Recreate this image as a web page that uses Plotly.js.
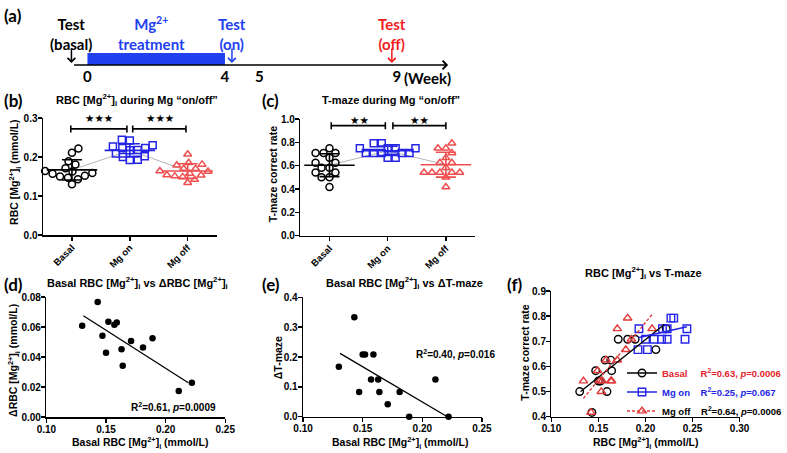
<!DOCTYPE html>
<html>
<head>
<meta charset="utf-8">
<script src="https://cdn.plot.ly/plotly-3.0.1.min.js"></script>
<style>
  html, body { margin: 0; padding: 0; background: #fff; }
  #chart { width: 787px; height: 453px; }
</style>
</head>
<body>
<div id="chart"></div>
<script>
var W = 787, H = 453;
var FONT = 'Liberation Sans, Arial, sans-serif';
var TLFONT = 'Lato, sans-serif';

// ---- values ----
var groups = ['Basal', 'Mg on', 'Mg off'];

var basalRBC   = [0.130, 0.143, 0.147, 0.150, 0.152, 0.157, 0.159, 0.163, 0.164, 0.171, 0.181, 0.189, 0.211, 0.222];
var basalTmaze = [0.500, 0.417, 0.583, 0.542, 0.542, 0.625, 0.500, 0.625, 0.583, 0.708, 0.708, 0.708, 0.667, 0.750];
var onRBC      = [0.192, 0.202, 0.193, 0.200, 0.209, 0.217, 0.223, 0.242, 0.218, 0.223, 0.244, 0.227, 0.230];
var onTmaze    = [0.667, 0.667, 0.750, 0.708, 0.708, 0.708, 0.708, 0.708, 0.750, 0.750, 0.750, 0.792, 0.792];
var offRBC     = [0.134, 0.142, 0.149, 0.151, 0.154, 0.153, 0.158, 0.163, 0.164, 0.170, 0.170, 0.179, 0.181, 0.185, 0.207];
var offTmaze   = [0.542, 0.417, 0.583, 0.542, 0.542, 0.500, 0.625, 0.542, 0.542, 0.625, 0.750, 0.667, 0.792, 0.708, 0.750];
var deltaRBC   = [0.0608, 0.0766, 0.0541, 0.0429, 0.0635, 0.0615, 0.0630, 0.0451, 0.0342, 0.0507, 0.0463, 0.0525, 0.0174, 0.0228];
var deltaTmaze = [0.167, 0.333, 0.083, 0.208, 0.208, 0.125, 0.208, 0.125, 0.083, 0.042, 0.083, 0.000, 0.125, 0.000];

// regression lines (end points)
var fitDx = [0.131, 0.219], fitDy = [0.0675, 0.0228];
var fitEx = [0.131, 0.221], fitEy = [0.212, 0.000];
var fitBasalX = [0.131, 0.220], fitBasalY = [0.500, 0.767];
var fitOnX    = [0.192, 0.244], fitOnY    = [0.714, 0.758];
var fitOffX   = [0.134, 0.207], fitOffY   = [0.473, 0.807];

var statD = 'R<sup>2</sup>=0.61, <i>p</i>=0.0009';
var statE = 'R<sup>2</sup>=0.40, <i>p</i>=0.016';
var statF = ['R<sup>2</sup>=0.63, <i>p</i>=0.0006', 'R<sup>2</sup>=0.25, <i>p</i>=0.067', 'R<sup>2</sup>=0.64, <i>p</i>=0.0006'];
var starsB = ['★★★', '★★★'];
var starsC = ['★★', '★★'];

// timeline (a)
var timelineTickWeeks = [0, 4, 5, 9];
var timelineTickText = ['0', '4', '5', '9'];
var treatmentWeeks = [0, 4];
var testWeeks = [0, 4, 9];
var testLabels = ['Test<br>(basal)', 'Test<br>(on)', 'Test<br>(off)'];

// ---- colours / helpers ----
var C_ON = '#2424e6', C_OFF = '#ef4f4f', C_RED_TXT = '#e3242b';
var TL_BLUE = '#2140f0', TL_RED = '#f21d1d';
var testColors = ['#000', TL_BLUE, TL_RED];
var testShift = [-16, 7, -5];

function px2x(p) { return p / W; }
function px2y(p) { return 1 - p / H; }
function mean(a) { return a.reduce(function (s, v) { return s + v; }, 0) / a.length; }
function sd(a) {
  var m = mean(a);
  return Math.sqrt(a.reduce(function (s, v) { return s + (v - m) * (v - m); }, 0) / (a.length - 1));
}

// simple beeswarm: offsets in px, converted to category units
function swarmX(vals, center, pxPerUnit, pxPerCat, diam) {
  var order = vals.map(function (v, i) { return i; }).sort(function (a, b) { return vals[a] - vals[b]; });
  var placed = [], xs = [];
  order.forEach(function (i) {
    var yp = vals[i] * pxPerUnit, chosen = 0;
    for (var s = 0; s < 100; s += 0.5) {
      var cands = s === 0 ? [0] : (placed.length % 2 ? [s, -s] : [-s, s]);
      var hit = null;
      for (var c = 0; c < cands.length; c++) {
        var ok = placed.every(function (p) {
          var dx = p[0] - cands[c], dy = p[1] - yp;
          return dx * dx + dy * dy >= diam * diam;
        });
        if (ok) { hit = cands[c]; break; }
      }
      if (hit !== null) { chosen = hit; break; }
    }
    placed.push([chosen, yp]);
    xs[i] = center + chosen / pxPerCat;
  });
  return xs;
}

var tickF = {family: FONT, size: 10, weight: 'bold', color: '#000'};
function axis(extra) {
  return Object.assign({
    showline: true, linecolor: '#000', linewidth: 1.5,
    ticks: 'outside', ticklen: 4, tickwidth: 1.5, tickcolor: '#000', ticklabelstandoff: -2,
    showgrid: false, zeroline: false, fixedrange: true, tickfont: tickF
  }, extra);
}

var traces = [];

function columnPanel(xa, ya, sets, pxPerUnit, pxPerCat) {
  var means = sets.map(function (s) { return mean(s.vals); });
  traces.push({x: [0, 1, 2], y: means, xaxis: xa, yaxis: ya, mode: 'lines',
    line: {color: '#b5b5b5', width: 1}, showlegend: false, hoverinfo: 'skip'});
  sets.forEach(function (s, g) {
    traces.push({x: swarmX(s.vals, g, pxPerUnit, pxPerCat, 7.6), y: s.vals, xaxis: xa, yaxis: ya,
      mode: 'markers', cliponaxis: false, showlegend: false,
      marker: {symbol: s.symbol, size: 7, color: s.color, line: {width: 1.5, color: s.color}}});
    traces.push({x: [g], y: [means[g]], xaxis: xa, yaxis: ya, mode: 'markers', cliponaxis: false,
      showlegend: false,
      marker: {symbol: 'line-ew', size: 36, color: s.color, line: {width: 1.6, color: s.color}},
      error_y: {type: 'data', array: [sd(s.vals)], visible: true, width: 10, thickness: 1.6, color: s.color}});
  });
}

// (b) RBC Mg
columnPanel('x', 'y', [
  {vals: basalRBC, symbol: 'circle-open', color: '#000'},
  {vals: onRBC, symbol: 'square-open', color: C_ON},
  {vals: offRBC, symbol: 'triangle-up-open', color: C_OFF}
], 117 / 0.3, 174.7 / 3);

// (c) T-maze
columnPanel('x2', 'y2', [
  {vals: basalTmaze, symbol: 'circle-open', color: '#000'},
  {vals: onTmaze, symbol: 'square-open', color: C_ON},
  {vals: offTmaze, symbol: 'triangle-up-open', color: C_OFF}
], 116.7, 175.7 / 3);

// (d)
traces.push({x: basalRBC, y: deltaRBC, xaxis: 'x3', yaxis: 'y3', mode: 'markers', cliponaxis: false,
  showlegend: false, marker: {symbol: 'circle', size: 6.5, color: '#000'}});
traces.push({x: fitDx, y: fitDy, xaxis: 'x3', yaxis: 'y3', mode: 'lines', showlegend: false,
  line: {color: '#000', width: 1.3}});

// (e)
traces.push({x: basalRBC, y: deltaTmaze, xaxis: 'x4', yaxis: 'y4', mode: 'markers', cliponaxis: false,
  showlegend: false, marker: {symbol: 'circle', size: 6.5, color: '#000'}});
traces.push({x: fitEx, y: fitEy, xaxis: 'x4', yaxis: 'y4', mode: 'lines', showlegend: false,
  line: {color: '#000', width: 1.3}});

// (f)
var fSets = [
  {x: basalRBC, y: basalTmaze, fx: fitBasalX, fy: fitBasalY, symbol: 'circle-open', color: '#000', dash: 'solid',
   label: '<span style="color:' + C_RED_TXT + '">Basal\u00a0\u00a0\u00a0\u00a0\u00a0' + statF[0] + '</span>'},
  {x: onRBC, y: onTmaze, fx: fitOnX, fy: fitOnY, symbol: 'square-open', color: C_ON, dash: 'solid',
   label: '<span style="color:' + C_ON + '">Mg on\u00a0\u00a0\u00a0\u00a0' + statF[1] + '</span>'},
  {x: offRBC, y: offTmaze, fx: fitOffX, fy: fitOffY, symbol: 'triangle-up-open', color: '#e33a3a', dash: '3px,2px',
   label: '<span style="color:#000">Mg off\u00a0\u00a0\u00a0\u00a0' + statF[2] + '</span>'}
];
fSets.forEach(function (s) {
  traces.push({x: s.x, y: s.y, xaxis: 'x5', yaxis: 'y5', mode: 'markers', cliponaxis: false, showlegend: false,
    marker: {symbol: s.symbol, size: 7.5, color: s.color, line: {width: 1.4, color: s.color}}});
});
fSets.forEach(function (s) {
  traces.push({x: s.fx, y: s.fy, xaxis: 'x5', yaxis: 'y5', mode: 'lines', showlegend: false,
    line: {color: s.color, width: 1.4, dash: s.dash}});
});
fSets.forEach(function (s) {
  traces.push({x: [null], y: [null], xaxis: 'x5', yaxis: 'y5', mode: 'lines+markers', name: s.label,
    showlegend: true, line: {color: s.color, width: 1.4, dash: s.dash},
    marker: {symbol: s.symbol, size: 7.5, color: s.color, line: {width: 1.4, color: s.color}}});
});

// ---- annotations ----
var ann = [];
function note(text, xp, yp, opt) {
  ann.push(Object.assign({text: text, x: px2x(xp), y: px2y(yp), xref: 'paper', yref: 'paper',
    xanchor: 'center', yanchor: 'middle', showarrow: false,
    font: {family: FONT, size: 11, weight: 'bold', color: '#000'}}, opt || {}));
}
var panelF = {family: TLFONT, size: 17, weight: 'bold', color: '#000'};
note('(a)', 2, 16, {xanchor: 'left', font: panelF});
note('(b)', 2, 100, {xanchor: 'left', font: panelF});
note('(c)', 262, 100, {xanchor: 'left', font: panelF});
note('(d)', 2, 284, {xanchor: 'left', font: panelF});
note('(e)', 262, 284, {xanchor: 'left', font: panelF});
note('(f)', 508, 284, {xanchor: 'left', font: panelF});

note('RBC [Mg<sup>2+</sup>]<sub>i</sub> during Mg \u201con/off\u201d', 138, 100);
note('T-maze during Mg \u201con/off\u201d', 394, 100);
note('Basal RBC [Mg<sup>2+</sup>]<sub>i</sub> vs \u0394RBC [Mg<sup>2+</sup>]<sub>i</sub>', 138, 283);
note('Basal RBC [Mg<sup>2+</sup>]<sub>i</sub> vs \u0394T-maze', 407, 283);
note('RBC [Mg<sup>2+</sup>]<sub>i</sub> vs T-maze', 648, 273);

var titF = {family: FONT, size: 10.5, weight: 'bold', color: '#000'};
note('RBC [Mg<sup>2+</sup>]<sub>i</sub> (mmol/L)', 15, 172, {textangle: -90, font: titF});
note('T-maze correct rate', 275, 174, {textangle: -90, font: titF});
note('\u0394RBC [Mg<sup>2+</sup>]<sub>i</sub> (mmol/L)', 14, 360, {textangle: -90, font: titF});
note('\u0394T-maze', 280, 358, {textangle: -90, font: titF});
note('T-maze correct rate', 528, 353, {textangle: -90, font: titF});
note('Basal RBC [Mg<sup>2+</sup>]<sub>i</sub> (mmol/L)', 141, 443, {font: titF});
note('Basal RBC [Mg<sup>2+</sup>]<sub>i</sub> (mmol/L)', 403, 443, {font: titF});
note('RBC [Mg<sup>2+</sup>]<sub>i</sub> (mmol/L)', 650, 443, {font: titF});

var statFont = {family: FONT, size: 10, weight: 'bold', color: '#000'};
ann.push({text: statD, xref: 'x3', yref: 'y3', x: 0.207, y: 0.0065, xanchor: 'center', yanchor: 'middle',
  showarrow: false, font: statFont});
ann.push({text: statE, xref: 'x4', yref: 'y4', x: 0.2275, y: 0.21, xanchor: 'center', yanchor: 'middle',
  showarrow: false, font: statFont});

var starFont = {family: 'DejaVu Sans', size: 10.5, color: '#000'};
function stars(text, xr, yr, x, y, shift) {
  ann.push({text: text, xref: xr, yref: yr, x: x, y: y, yshift: shift, xanchor: 'center', yanchor: 'middle',
    showarrow: false, font: starFont});
}
stars(starsB[0], 'x', 'y', 0.47, 0.29, 4);
stars(starsB[1], 'x', 'y', 1.52, 0.29, 4);
stars(starsC[0], 'x2', 'y2', 0.52, 0.99, 0);
stars(starsC[1], 'x2', 'y2', 1.54, 0.99, 0);

// timeline scale (schematic): px = week0Px + pxPerWeek * week
var week0Px = 88, pxPerWeek = 34.6;
function pxToWeek(p) { return (p - week0Px) / pxPerWeek; }
var tlDomPx = [60, 460];
var tlRange = [pxToWeek(tlDomPx[0]), pxToWeek(tlDomPx[1])];

ann.push({text: '', xref: 'x6', yref: 'paper', x: pxToWeek(451), y: px2y(65), axref: 'x6', ax: pxToWeek(73),
  ayref: 'pixel', ay: 0, showarrow: true, arrowhead: 4, arrowsize: 1.1, arrowwidth: 1.5, arrowcolor: '#000'});
var tlF = function (c) { return {family: TLFONT, size: 15, weight: 'bold', color: c}; };
testWeeks.forEach(function (w, i) {
  ann.push({text: '', xref: 'x6', yref: 'paper', x: w, y: px2y(63), ax: 0, ay: -16, xshift: testShift[i],
    showarrow: true, arrowhead: 4, arrowsize: 1, arrowwidth: 1.5, arrowcolor: testColors[i]});
  ann.push({text: testLabels[i], xref: 'x6', yref: 'paper', x: w, y: px2y(34), xshift: testShift[i],
    xanchor: 'center', yanchor: 'middle', showarrow: false, font: tlF(testColors[i])});
});
ann.push({text: 'Mg<sup>2+</sup><br>treatment', xref: 'x6', yref: 'paper', x: mean(treatmentWeeks), y: px2y(34),
  xshift: -5, xanchor: 'center', yanchor: 'middle', showarrow: false, font: tlF(TL_BLUE)});
ann.push({text: '(Week)', xref: 'x6', yref: 'paper', x: timelineTickWeeks[3], y: px2y(78), xanchor: 'left',
  yanchor: 'middle', xshift: 5, showarrow: false, font: tlF('#000')});

// ---- shapes: brackets and treatment bar ----
function bracket(xr, yr, x0, x1, y, cap) {
  return {type: 'path', xref: xr, yref: yr, line: {color: '#000', width: 1.6},
    path: 'M' + x0 + ',' + (y - cap) + 'L' + x0 + ',' + (y + cap) + 'M' + x0 + ',' + y + 'L' + x1 + ',' + y +
          'M' + x1 + ',' + (y - cap) + 'L' + x1 + ',' + (y + cap)};
}
var shapes = [
  bracket('x', 'y', -0.02, 0.95, 0.272, 0.009),
  bracket('x', 'y', 1.05, 1.97, 0.272, 0.009),
  bracket('x2', 'y2', 0.03, 0.96, 0.943, 0.03),
  bracket('x2', 'y2', 1.09, 2.0, 0.943, 0.03),
  {type: 'rect', xref: 'x6', yref: 'paper', x0: treatmentWeeks[0], x1: treatmentWeeks[1],
   y0: px2y(65), y1: px2y(53), fillcolor: TL_BLUE, line: {width: 0}}
];

var catAxis = {tickvals: [0, 1, 2], ticktext: groups, range: [-0.5, 2.5], tickangle: -45,
  tickfont: {family: FONT, size: 9.5, weight: 'bold', color: '#000'}};

var layout = {
  width: W, height: H, margin: {l: 0, r: 0, t: 0, b: 0},
  paper_bgcolor: '#fff', plot_bgcolor: 'rgba(0,0,0,0)',
  font: {family: FONT, size: 10, weight: 'bold', color: '#000'},
  showlegend: true,
  legend: {x: px2x(626), y: px2y(392), xanchor: 'left', yanchor: 'middle', bgcolor: 'rgba(0,0,0,0)',
    font: {family: FONT, size: 9.5, weight: 'bold', color: '#000'}},
  xaxis: axis(Object.assign({domain: [px2x(43.3), px2x(218)], anchor: 'y'}, catAxis)),
  yaxis: axis({domain: [px2y(235), px2y(118)], range: [0, 0.3], dtick: 0.1, tickformat: '.1f', anchor: 'x'}),
  xaxis2: axis(Object.assign({domain: [px2x(302.3), px2x(478)], anchor: 'y2'}, catAxis)),
  yaxis2: axis({domain: [px2y(235.7), px2y(119)], range: [0, 1], dtick: 0.2, tickformat: '.1f', anchor: 'x2'}),
  xaxis3: axis({domain: [px2x(46.7), px2x(226.7)], range: [0.10, 0.25], dtick: 0.05, tickformat: '.2f', anchor: 'y3'}),
  yaxis3: axis({domain: [px2y(417), px2y(297)], range: [0, 0.08], dtick: 0.02, tickformat: '.2f', anchor: 'x3'}),
  xaxis4: axis({domain: [px2x(305), px2x(485)], range: [0.10, 0.25], dtick: 0.05, tickformat: '.2f', anchor: 'y4'}),
  yaxis4: axis({domain: [px2y(416.7), px2y(297.3)], range: [0, 0.4], dtick: 0.1, tickformat: '.1f', anchor: 'x4'}),
  xaxis5: axis({domain: [px2x(555), px2x(744.3)], range: [0.10, 0.30], dtick: 0.05, tickformat: '.2f', anchor: 'y5'}),
  yaxis5: axis({domain: [px2y(416.7), px2y(291)], range: [0.4, 0.9], dtick: 0.1, tickformat: '.1f', anchor: 'x5'}),
  xaxis6: {domain: [px2x(tlDomPx[0]), px2x(tlDomPx[1])], range: tlRange, anchor: 'y6',
    tickvals: timelineTickWeeks, ticktext: timelineTickText, ticks: '', showline: false, showgrid: false,
    zeroline: false, fixedrange: true, tickfont: tlF('#000')},
  yaxis6: {domain: [px2y(66), px2y(15)], range: [0, 1], visible: false, fixedrange: true, anchor: 'x6'},
  annotations: ann,
  shapes: shapes
};

Plotly.newPlot('chart', traces, layout, {staticPlot: true, displayModeBar: false});
</script>
</body>
</html>
